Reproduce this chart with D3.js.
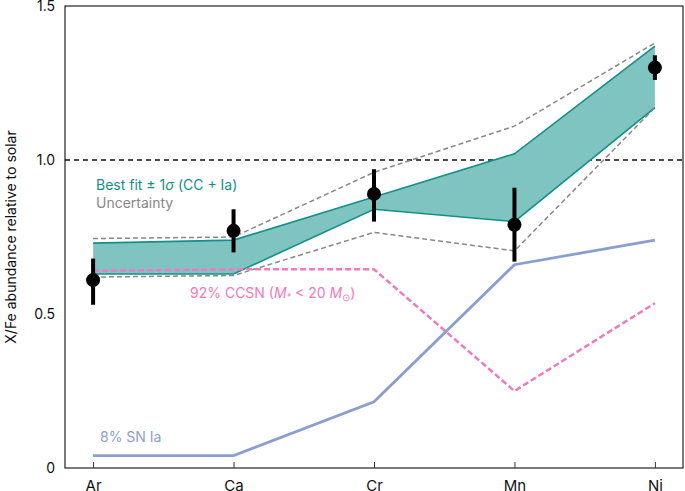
<!DOCTYPE html>
<html lang="en">
<head>
<meta charset="UTF-8">
<script src="https://d3js.org/d3.v7.min.js"></script>
<style>
  body { margin: 0; background: #fff; }
  text { font-family: "Inter", "Roboto", sans-serif; }
</style>
</head>
<body>
<svg width="685" height="491"></svg>
<script>
    // data
    const elements = ["Ar", "Ca", "Cr", "Mn", "Ni"];
    const obsValue = [0.61, 0.77, 0.89, 0.79, 1.30];
    const obsLow   = [0.53, 0.70, 0.80, 0.67, 1.26];
    const obsHigh  = [0.68, 0.84, 0.97, 0.91, 1.34];
    const fitUpper = [0.73, 0.74, 0.88, 1.02, 1.37];
    const fitLower = [0.63, 0.63, 0.84, 0.80, 1.17];
    const uncUpper = [0.745, 0.75, 0.96, 1.11, 1.38];
    const uncLower = [0.62, 0.625, 0.765, 0.705, 1.17];
    const ccsn     = [0.64, 0.645, 0.645, 0.25, 0.535];
    const snIa     = [0.04, 0.04, 0.215, 0.66, 0.74];
    const yTicks   = [0, 0.5, 1.0, 1.5];

    const svg = d3.select("svg");
    const mLeft = 65, mRight = 683, mTop = 6, mBottom = 468;

    const x = d3.scalePoint().domain(elements).range([mLeft, mRight]).padding(0.2);
    const y = d3.scaleLinear().domain([0, 1.5]).range([mBottom, mTop]);

    const line = arr => d3.line().x((d, i) => x(elements[i])).y(d => y(d))(arr);

    // frame
    svg.append("rect").attr("x", mLeft).attr("y", mTop)
        .attr("width", mRight - mLeft).attr("height", mBottom - mTop)
        .attr("fill", "none").attr("stroke", "#222").attr("stroke-width", 1.2);

    // axes
    const xAxis = svg.append("g").attr("transform", `translate(0,${mBottom})`)
        .call(d3.axisBottom(x).tickSize(-6).tickPadding(12));
    const yAxis = svg.append("g").attr("transform", `translate(${mLeft},0)`)
        .call(d3.axisLeft(y).tickValues(yTicks).tickSize(0).tickPadding(10)
            .tickFormat(d => d === 0 ? "0" : d3.format(".1f")(d)));
    [xAxis, yAxis].forEach(g => {
        g.select(".domain").remove();
        g.selectAll("text").attr("font-size", 14).attr("fill", "#111");
        g.selectAll("line").attr("stroke", "#333");
    });
    xAxis.selectAll("text").attr("font-size", 15);

    svg.append("text")
        .attr("transform", `translate(16,${(mTop + mBottom) / 2}) rotate(-90)`)
        .attr("text-anchor", "middle").attr("font-size", 14).attr("fill", "#111")
        .text("X/Fe abundance relative to solar");

    // solar reference
    svg.append("line").attr("x1", mLeft).attr("x2", mRight)
        .attr("y1", y(1)).attr("y2", y(1))
        .attr("stroke", "#111").attr("stroke-width", 1.4).attr("stroke-dasharray", "5,4");

    // best-fit band
    svg.append("path")
        .attr("d", d3.area().x((d, i) => x(elements[i]))
            .y0((d, i) => y(fitLower[i])).y1(d => y(d))(fitUpper))
        .attr("fill", "#7fc4c0");
    [fitUpper, fitLower].forEach(arr => svg.append("path").attr("d", line(arr))
        .attr("fill", "none").attr("stroke", "#139088").attr("stroke-width", 1.6));

    // uncertainty
    [uncUpper, uncLower].forEach(arr => svg.append("path").attr("d", line(arr))
        .attr("fill", "none").attr("stroke", "#888").attr("stroke-width", 1.5)
        .attr("stroke-dasharray", "5,3"));

    // components
    svg.append("path").attr("d", line(ccsn)).attr("fill", "none")
        .attr("stroke", "#f07ac0").attr("stroke-width", 2.5).attr("stroke-dasharray", "6,3");
    svg.append("path").attr("d", line(snIa)).attr("fill", "none")
        .attr("stroke", "#8b9fcf").attr("stroke-width", 2.8);

    // observations
    const obs = svg.append("g");
    elements.forEach((e, i) => {
        obs.append("line").attr("x1", x(e)).attr("x2", x(e))
            .attr("y1", y(obsLow[i])).attr("y2", y(obsHigh[i]))
            .attr("stroke", "#000").attr("stroke-width", 4);
        obs.append("circle").attr("cx", x(e)).attr("cy", y(obsValue[i]))
            .attr("r", 7).attr("fill", "#000");
    });

    // labels
    svg.append("text").attr("x", 96).attr("y", 190).attr("font-size", 14)
        .attr("fill", "#139088")
        .html('Best fit ± 1<tspan font-style="italic">σ</tspan> (CC + Ia)');
    svg.append("text").attr("x", 96).attr("y", 208).attr("font-size", 14)
        .attr("fill", "#888").text("Uncertainty");
    svg.append("text").attr("x", 190).attr("y", 298).attr("font-size", 14)
        .attr("fill", "#f07ac0")
        .html('92% CCSN (<tspan font-style="italic">M</tspan><tspan font-size="9" dy="2" font-style="italic">*</tspan><tspan dy="-2"> &lt; 20 </tspan><tspan font-style="italic">M</tspan><tspan font-size="10" dy="3">⊙</tspan><tspan dy="-3">)</tspan>');
    svg.append("text").attr("x", 100).attr("y", 442).attr("font-size", 14)
        .attr("fill", "#8b9fcf").text("8% SN Ia");
</script>
</body>
</html>
